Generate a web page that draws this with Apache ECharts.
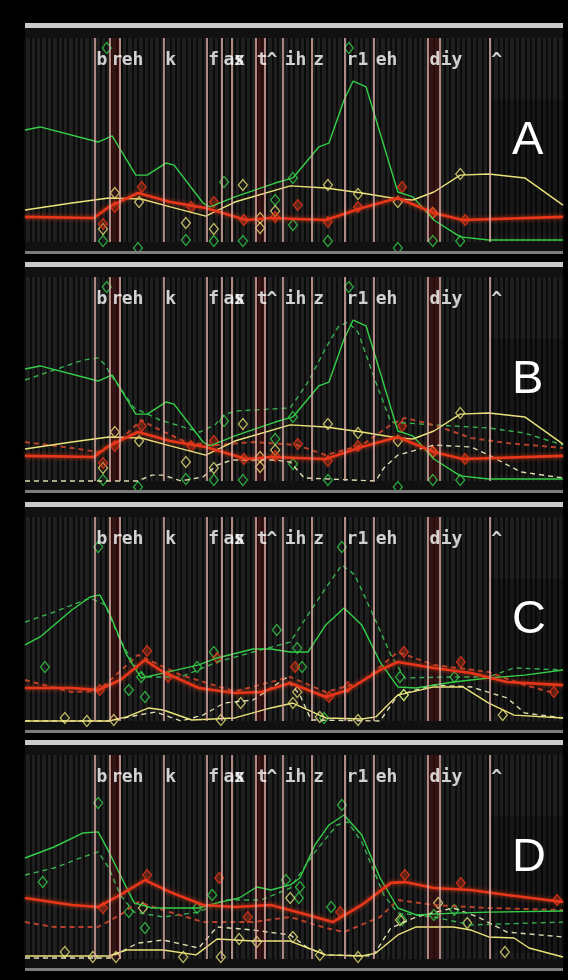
<!DOCTYPE html>
<html>
<head>
<meta charset="utf-8">
<script src="https://cdn.jsdelivr.net/npm/echarts@6/dist/echarts.min.js"></script>
<style>
  html, body { margin: 0; padding: 0; background: #000; }
  #chart { width: 568px; height: 980px; }
</style>
</head>
<body>
<div id="chart"></div>
<script>
// phone boundaries (frames) and labels
var boundaries = [13.0, 15.8, 17.7, 25.8, 33.8, 36.6, 38.5, 42.8, 44.6, 48.0, 53.3, 59.5, 64.9, 74.9, 77.0, 86.4];
var phones = ['b', 'r', 'eh', 'k', 'f', 'ax', 's', 't', '^', 'ih', 'z', 'r1', 'eh', 'd', 'iy', '^'];
var shaded = [[15.8, 17.7], [42.8, 44.6], [74.9, 77.0]];
var panelNames = ['A', 'B', 'C', 'D'];

// panel A (and B) solid tracks
var greenA = [[0,54.9],[2.8,56.4],[13.6,49.0],[16.2,52.0],[20.6,32.8],[22.7,32.8],[26.2,38.7],[27.7,37.7],[33.1,19.1],[34.4,17.2],[39.0,22.1],[46.5,28.9],[49.8,31.4],[54.6,46.6],[56.5,48.5],[59.3,69.6],[61.0,78.9],[63.4,76.0],[66.0,53.4],[69.3,24.5],[72.1,22.1],[76.0,10.8],[80.9,2.5],[86.2,1.0],[100,1.0]];
var yellowA = [[0,15.7],[8.7,19.1],[15.6,21.6],[21.6,21.1],[27.0,17.2],[33.6,12.7],[39.0,19.6],[49.3,27.5],[55.9,26.5],[62.6,24.0],[69.3,21.1],[72.1,20.6],[76.0,24.5],[80.9,32.8],[86.2,33.3],[92.9,31.4],[100,18.1]];
var redA = [[0,12.3],[12.8,11.8],[15.6,17.2],[21.0,24.0],[27.0,19.6],[33.6,16.7],[41.1,10.8],[45.7,11.8],[55.9,10.8],[62.6,16.7],[69.3,21.6],[76.0,14.2],[81.4,10.8],[100,12.3]];
var greenDiaA = [[15.2,95.1],[14.5,0.5],[21.0,-2.9],[29.9,1.0],[35.1,0.5],[37.0,29.4],[40.5,0.5],[46.5,20.6],[49.8,8.3],[49.8,31.4],[56.3,0.5],[60.2,95.1],[69.3,-2.9],[75.8,0.5],[80.9,0.5]];
var yellowDiaA = [[14.5,6.4],[16.7,24.0],[21.2,19.6],[29.9,9.3],[35.1,6.4],[40.5,27.9],[43.7,11.8],[43.7,6.9],[46.5,15.2],[56.3,27.9],[61.9,23.5],[69.3,19.6],[75.8,14.2],[80.9,33.3]];
var redDiaA = [[14.5,8.8],[16.7,17.2],[21.7,27.0],[30.9,17.2],[35.1,19.6],[40.7,10.8],[46.5,12.3],[50.7,18.1],[56.3,9.8],[61.9,17.2],[70.1,27.0],[75.8,14.2],[81.8,10.8]];

// panel B dashed tracks
var greenDashB = [[0,49.5],[5.4,54.4],[10.8,59.3],[13.6,60.3],[14.9,56.9],[16.2,51.0],[20.3,35.8],[25.1,29.9],[32.5,24.0],[35.3,27.5],[37.0,32.4],[39.0,34.3],[49.3,35.8],[52.6,48.5],[55.9,65.2],[58.2,75.5],[60.0,77.9],[61.9,73.0],[65.2,48.5],[68.0,28.9],[76.0,27.5],[86.2,26.0],[92.9,23.5],[100,17.6]];
var yellowDashB = [[0,0],[21.0,0],[23.6,2.9],[25.7,2.9],[29.0,0],[33.1,2.0],[35.7,7.8],[38.5,10.3],[46.5,10.3],[49.3,9.3],[51.9,1.5],[65.2,0],[66.7,6.4],[69.3,12.7],[76.0,17.6],[82.9,16.7],[86.2,12.7],[92.2,4.4],[100,1.5]];
var redDashB = [[0,19.1],[8.7,16.2],[13.6,14.2],[17.7,20.1],[21.6,29.9],[24.3,26.0],[30.3,18.6],[35.7,17.6],[42.4,19.1],[50.6,17.6],[55.9,12.7],[62.6,17.6],[68.0,27.5],[70.6,30.9],[76.0,27.5],[82.9,21.1],[89.6,18.6],[100,16.2]];

// panel C
var greenC = [[0,37.3],[2.8,41.2],[8.7,54.4],[12.1,60.8],[13.9,61.8],[15.6,53.4],[18.9,32.4],[21.6,21.1],[25.7,23.5],[32.3,27.5],[35.7,30.9],[42.4,35.3],[45.7,35.3],[49.3,33.8],[52.6,33.8],[55.9,47.1],[59.3,55.4],[62.6,47.1],[66.0,28.9],[69.3,16.7],[72.7,16.2],[79.6,19.1],[86.2,21.1],[92.9,22.5],[100,25]];
var greenDashC = [[0,48.5],[5.4,53.4],[12.1,60.3],[14.9,56.9],[17.5,40.7],[20.3,27.5],[22.3,21.6],[29.0,21.6],[35.7,28.9],[42.4,33.8],[49.3,38.7],[52.6,52.0],[55.9,65.2],[58.9,76.5],[61.3,71.6],[64.7,52.0],[68.0,32.4],[70.6,21.1],[79.6,21.6],[86.2,21.6],[90.9,26.0],[100,25]];
var redC = [[0,16.2],[8.7,16.2],[13.6,15.2],[17.7,20.1],[22.3,29.9],[25.7,24.0],[32.3,16.2],[39.0,13.7],[43.9,14.2],[49.3,18.6],[55.9,11.8],[60.0,15.2],[66.0,25.0],[69.3,28.9],[76.0,26.0],[82.9,23.5],[89.6,19.1],[100,17.6]];
var redDashC = [[0,20.1],[8.7,14.2],[13.6,14.7],[21.0,32.4],[29.0,22.5],[39.0,14.5],[49.3,21.6],[55.9,14.2],[62.6,19.1],[69.3,33.8],[76.0,27.5],[86.2,24.0],[92.9,17.6],[98.3,13.7]];
var yellowC = [[0,0],[15.6,0],[18.9,2.0],[23.0,6.4],[25.7,5.4],[31.0,0.5],[39.0,1.5],[45.7,6.4],[49.8,8.8],[53.9,3.9],[55.9,1.5],[62.6,1.0],[65.2,2.0],[69.3,12.7],[76.0,16.7],[81.4,16.7],[86.2,8.8],[90.9,2.9],[100,1.5]];
var yellowDashC = [[0,0],[15.6,0],[21.0,2.9],[24.3,4.4],[29.0,0],[33.1,2.9],[37.0,8.8],[42.4,10.3],[48.5,21.1],[51.1,12.7],[53.2,0.5],[66.0,0],[69.3,12.7],[76.0,17.6],[82.9,16.7],[89.6,11.3],[92.9,3.9],[100,1.5]];
var greenDiaC = [[13.6,85.3],[3.7,26.5],[19.3,15.2],[22.3,11.8],[21.6,21.6],[35.1,33.8],[32.0,26.5],[46.8,44.6],[50.6,35.8],[51.5,26.5],[58.9,85.3],[69.7,21.6],[70.4,12.7],[79.8,21.6],[55.6,1.5]];
var yellowDiaC = [[7.4,1.5],[11.5,0],[16.5,0.5],[36.4,0.5],[40.1,8.8],[49.8,8.8],[50.6,14.2],[54.8,2.0],[61.9,0.5],[88.8,2.9],[70.4,12.7]];
var redDiaC = [[13.9,15.2],[22.7,34.3],[26.6,21.6],[35.7,30.9],[50.2,26.5],[56.5,11.8],[60.0,16.7],[70.4,33.8],[81.0,28.9],[98.3,14.2]];

// panel D
var greenD = [[0,49.5],[5.4,54.9],[10.8,61.8],[13.6,62.3],[15.6,52.5],[17.7,41.2],[20.3,27.5],[23.6,25.0],[32.3,25.0],[35.7,27.5],[39.8,29.9],[43.1,35.3],[45.7,33.8],[49.3,36.3],[51.1,39.7],[53.9,55.9],[56.5,65.7],[59.3,70.6],[62.6,60.8],[66.0,39.7],[69.3,25.0],[72.7,21.6],[79.6,22.5],[86.2,23.0],[100,23.5]];
var greenDashD = [[0,41.2],[5.4,44.6],[10.8,50.0],[13.6,52.5],[15.6,44.6],[17.7,31.4],[20.3,23.0],[25.7,20.6],[32.3,23.0],[37.0,28.9],[43.9,28.9],[49.3,34.8],[53.9,52.5],[58.0,65.7],[60.0,67.2],[62.6,57.4],[66.7,31.4],[69.3,22.5],[76.0,20.6],[82.9,16.7],[100,18.1]];
var redD = [[0,29.9],[8.7,26.5],[13.6,25.5],[17.7,31.4],[22.3,38.7],[27.0,32.8],[33.1,26.5],[39.0,25.5],[45.7,26.5],[52.6,21.6],[57.2,18.1],[62.6,26.5],[68.0,37.3],[70.6,37.7],[76.0,34.8],[82.9,33.8],[89.6,31.4],[100,27.9]];
var redDashD = [[0,18.1],[5.4,15.7],[13.6,15.7],[17.7,21.6],[21.0,27.9],[25.7,24.0],[33.1,18.1],[42.4,18.1],[49.3,20.6],[55.9,15.2],[59.3,13.2],[66.0,20.6],[69.3,28.9],[76.0,26.5],[86.2,25.0],[100,24.0]];
var yellowD = [[0,1.5],[15.6,1.5],[18.9,4.4],[25.7,4.4],[31.8,2.0],[35.7,9.8],[42.4,8.8],[49.3,8.8],[52.6,5.4],[55.9,2.0],[62.6,1.5],[65.2,2.9],[69.3,11.8],[72.7,15.7],[79.6,15.7],[82.9,14.2],[86.2,10.8],[90.9,10.3],[93.7,5.4],[100,1.0]];
var yellowDashD = [[0,0.5],[15.6,0.5],[21.0,7.8],[25.7,9.3],[32.3,5.4],[35.7,15.7],[42.4,14.2],[49.3,11.8],[52.6,5.4],[55.9,2.0],[64.7,1.5],[68.0,15.2],[72.7,20.6],[79.6,25.0],[84.2,20.6],[89.6,13.2],[100,10.8]];
var greenDiaD = [[13.6,76.5],[3.3,37.7],[19.3,23.0],[22.3,15.2],[34.8,31.4],[32.0,25.0],[48.5,38.7],[50.9,29.9],[56.9,25.5],[58.9,75.5],[70.1,19.1],[76.0,21.6],[79.8,24.0],[51.1,35.3]];
var yellowDiaD = [[7.4,3.4],[12.6,1.0],[16.9,1.0],[21.9,25.0],[29.4,1.0],[36.4,1.0],[39.8,9.8],[43.1,8.3],[49.3,29.9],[49.8,10.8],[54.8,2.0],[61.9,1.0],[69.7,19.1],[76.8,27.5],[82.2,17.6],[89.2,3.4]];
var redDiaD = [[14.5,25.0],[22.7,41.2],[36.1,39.7],[41.4,20.6],[58.6,23.0],[70.6,41.2],[81.0,37.3],[98.9,28.9]];

var panels = [
  { solid: [greenA, yellowA, redA], dash: null, dia: [greenDiaA, yellowDiaA, redDiaA] },
  { solid: [greenA, yellowA, redA], dash: [greenDashB, yellowDashB, redDashB], dia: [greenDiaA, yellowDiaA, redDiaA] },
  { solid: [greenC, yellowC, redC], dash: [greenDashC, yellowDashC, redDashC], dia: [greenDiaC, yellowDiaC, redDiaC] },
  { solid: [greenD, yellowD, redD], dash: [greenDashD, yellowDashD, redDashD], dia: [greenDiaD, yellowDiaD, redDiaD] }
];

var GREEN = '#34cf48', YELLOW = '#ebe37a', RED = '#e8361a';
var barTops = [23, 262, 502, 740];
var L = 25, W = 538;

var chart = echarts.init(document.getElementById('chart'));
var grids = [], xAxes = [], yAxes = [], series = [], graphics = [], titles = [];

barTops.forEach(function (top, i) {
  grids.push({ left: L, top: top + 15, width: W, height: 204, show: true, backgroundColor: '#1f1f1f', borderWidth: 0 });
  xAxes.push({
    gridIndex: i, type: 'value', min: 0, max: 100, interval: 1,
    axisLine: { show: false }, axisTick: { show: false }, axisLabel: { show: false },
    splitLine: { show: true, lineStyle: { color: '#0b0b0b', width: 2 } }
  });
  yAxes.push({
    gridIndex: i, type: 'value', min: 0, max: 100,
    axisLine: { show: false }, axisTick: { show: false }, axisLabel: { show: false }, splitLine: { show: false }
  });
  // frame bars
  graphics.push({ type: 'rect', z: -5, shape: { x: L, y: top + 5, width: W, height: 223 }, style: { fill: '#111111' } });
  graphics.push({ type: 'rect', z: 5, shape: { x: L, y: top, width: W, height: 5 }, style: { fill: '#cacaca' } });
  graphics.push({ type: 'rect', z: 5, shape: { x: L, y: top + 228, width: W, height: 3 }, style: { fill: '#7c7c7c' } });
  titles.push({
    text: panelNames[i], left: 512, top: top + 95, padding: 0,
    textStyle: { color: '#fff', fontSize: 47, fontWeight: 'normal', fontFamily: 'Liberation Sans Narrow, Arial Narrow, sans-serif' }
  });

  // boundaries, shading
  series.push({
    type: 'line', xAxisIndex: i, yAxisIndex: i, data: [], silent: true,
    markArea: {
      silent: true,
      data: shaded.map(function (s) {
        return [{ xAxis: s[0], itemStyle: { color: 'rgba(70,12,10,0.5)' } }, { xAxis: s[1] }];
      }).concat([[{ xAxis: boundaries[15], yAxis: 3, itemStyle: { color: 'rgba(0,0,0,0.25)' } }, { xAxis: 100, yAxis: 70 }]])
    },
    markLine: {
      silent: true, symbol: 'none', label: { show: false },
      lineStyle: { color: '#e2b0aa', width: 1.5, type: 'solid' },
      data: boundaries.map(function (b) { return { xAxis: b }; })
    }
  });

  var p = panels[i];
  var cols = [GREEN, YELLOW, RED];
  if (p.dash) {
    var dcols = ['#3bbf55', '#f2eec0', '#c9452c'];
    p.dash.forEach(function (d, k) {
      series.push({
        type: 'line', xAxisIndex: i, yAxisIndex: i, data: d, symbol: 'none', silent: true, clip: false,
        lineStyle: { color: dcols[k], width: k === 2 ? 2 : 1.4, type: [5, 4], opacity: 0.9 }
      });
    });
  }
  p.dia.forEach(function (d, k) {
    series.push({
      type: 'scatter', xAxisIndex: i, yAxisIndex: i, data: d, symbol: 'diamond', symbolSize: [9, 11], clip: false, silent: true,
      itemStyle: {
        color: k === 2 ? 'rgba(190,50,20,0.55)' : 'rgba(0,0,0,0)',
        borderColor: cols[k], borderWidth: 1.3
      }
    });
  });
  p.solid.forEach(function (d, k) {
    series.push({
      type: 'line', xAxisIndex: i, yAxisIndex: i, data: d, symbol: 'none', silent: true, clip: false,
      lineStyle: k === 2
        ? { color: RED, width: 2.6, shadowColor: 'rgba(230,60,20,0.8)', shadowBlur: 4 }
        : { color: cols[k], width: 1.4 }
    });
  });

  // phone labels
  series.push({
    type: 'scatter', xAxisIndex: i, yAxisIndex: i, symbolSize: 1, silent: true,
    itemStyle: { color: 'rgba(0,0,0,0)' },
    data: boundaries.map(function (b, k) { return { name: phones[k], value: [b, 89] }; }),
    label: {
      show: true, position: 'right', distance: 1, formatter: '{b}',
      color: '#ffffff', fontSize: 18, fontWeight: 'bold', fontFamily: 'DejaVu Sans Mono, monospace'
    },
    z: 20
  });
});

chart.setOption({
  backgroundColor: '#000',
  animation: false,
  title: titles,
  grid: grids,
  xAxis: xAxes,
  yAxis: yAxes,
  graphic: graphics,
  series: series
});
</script>
</body>
</html>
